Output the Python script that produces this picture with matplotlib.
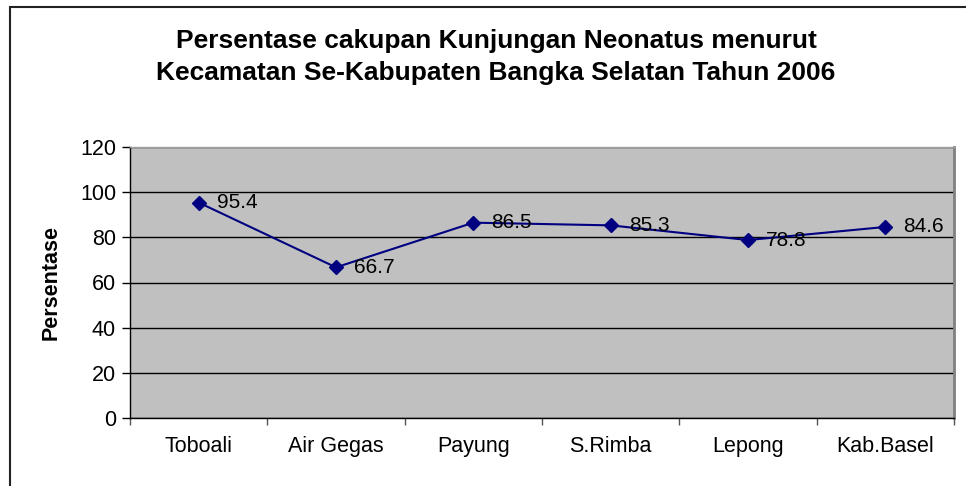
import matplotlib
matplotlib.use("Agg")
import matplotlib.pyplot as plt
from matplotlib.patches import Rectangle

categories = ["Toboali", "Air Gegas", "Payung", "S.Rimba", "Lepong", "Kab.Basel"]
values = [95.4, 66.7, 86.5, 85.3, 78.8, 84.6]
yticks = [0, 20, 40, 60, 80, 100, 120]
title = "Persentase cakupan Kunjungan Neonatus menurut\nKecamatan Se-Kabupaten Bangka Selatan Tahun 2006"

plt.rcParams['font.family'] = ['Liberation Sans', 'DejaVu Sans']

W, H = 966, 486
fig = plt.figure(figsize=(W/100, H/100), dpi=100)
fig.patch.set_facecolor("white")

# figure border (chart area)
fig.add_artist(Rectangle((10/W, -0.1), 1.2, 1.1 - 7/H, transform=fig.transFigure,
                         fill=False, edgecolor="#222222", lw=1.5))

left, right, top, bottom = 130, 954, 147, 418
ax = fig.add_axes([left/W, 1 - bottom/H, (right-left)/W, (bottom-top)/H])
ax.set_facecolor("#C0C0C0")

x = list(range(len(categories)))
ax.plot(x, values, color="#000080", lw=1.5, marker="D", markersize=7,
        markerfacecolor="#000080", markeredgecolor="#000080", zorder=3)
for xi, v in zip(x, values):
    ax.annotate(f"{v}", (xi, v), xytext=(13, 0), textcoords="offset points",
                ha="left", va="center", fontsize=15, color="black", zorder=4)

ax.set_xlim(-0.5, len(categories) - 0.5)
ax.set_ylim(0, 120)
ax.set_yticks(yticks)
ax.set_yticklabels([str(t) for t in yticks], fontsize=15.5)
ax.yaxis.grid(True, color="black", lw=1)
ax.set_axisbelow(True)

ax.set_xticks(x)
ax.set_xticklabels(categories, fontsize=15.5)
ax.tick_params(axis="x", length=0, pad=13)
ax.set_xticks([i + 0.5 for i in range(-1, len(categories))], minor=True)
ax.tick_params(axis="x", which="minor", length=5, width=1, color="#555555", direction="out")
ax.tick_params(axis="y", length=6, width=1, direction="out", pad=4)

for s in ["left", "bottom"]:
    ax.spines[s].set_color("black")
    ax.spines[s].set_linewidth(1)
ax.spines["right"].set_color("#808080")
ax.spines["right"].set_linewidth(2)
ax.spines["top"].set_color("#A0A0A0")
ax.spines["top"].set_linewidth(1)

ax.set_ylabel("Persentase", fontsize=15.5, fontweight="bold", labelpad=13)

fig.text(496/W, 1 - 57/H, title, ha="center", va="center", fontsize=19,
         fontweight="bold", linespacing=1.45)

fig.savefig("out.png", dpi=100)
